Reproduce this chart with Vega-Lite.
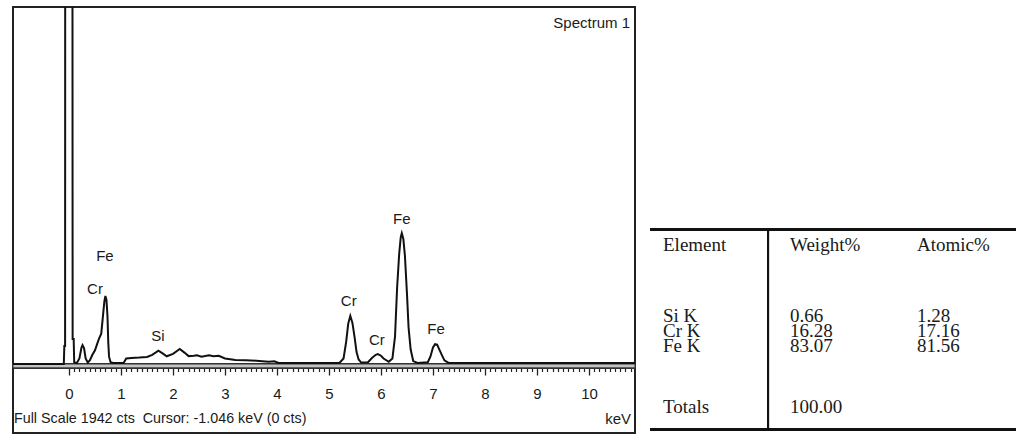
{
  "$schema": "https://vega.github.io/schema/vega-lite/v6.json",
  "background": "white",
  "padding": {"left": 11, "top": 6, "right": 0, "bottom": 2},
  "spacing": 11,
  "config": {
    "view": {"stroke": null},
    "text": {"font": "Liberation Sans, Arial, sans-serif", "fontSize": 15, "color": "#1a1a1a"}
  },
  "datasets": {
    "spectrum": [
      {"keV": -1.077, "cts": 0}, {"keV": -0.5, "cts": 0}, {"keV": -0.1, "cts": 0},
      {"keV": -0.09, "cts": 98}, {"keV": -0.075, "cts": 98}, {"keV": -0.07, "cts": 6000},
      {"keV": 0.06, "cts": 6000}, {"keV": 0.07, "cts": 136}, {"keV": 0.09, "cts": 136},
      {"keV": 0.1, "cts": 10}, {"keV": 0.15, "cts": 5}, {"keV": 0.2, "cts": 30},
      {"keV": 0.24, "cts": 90}, {"keV": 0.26, "cts": 103}, {"keV": 0.29, "cts": 85},
      {"keV": 0.32, "cts": 30}, {"keV": 0.36, "cts": 8}, {"keV": 0.4, "cts": 20},
      {"keV": 0.45, "cts": 50}, {"keV": 0.5, "cts": 75}, {"keV": 0.54, "cts": 108},
      {"keV": 0.58, "cts": 140}, {"keV": 0.62, "cts": 165}, {"keV": 0.65, "cts": 252},
      {"keV": 0.68, "cts": 340}, {"keV": 0.7, "cts": 370}, {"keV": 0.72, "cts": 350},
      {"keV": 0.74, "cts": 260}, {"keV": 0.755, "cts": 120}, {"keV": 0.77, "cts": 40},
      {"keV": 0.8, "cts": 10}, {"keV": 0.85, "cts": 6}, {"keV": 1.05, "cts": 6},
      {"keV": 1.1, "cts": 30}, {"keV": 1.2, "cts": 33}, {"keV": 1.35, "cts": 35},
      {"keV": 1.5, "cts": 38}, {"keV": 1.6, "cts": 50}, {"keV": 1.72, "cts": 72},
      {"keV": 1.8, "cts": 58}, {"keV": 1.88, "cts": 42}, {"keV": 2.0, "cts": 55},
      {"keV": 2.13, "cts": 82}, {"keV": 2.22, "cts": 62}, {"keV": 2.3, "cts": 43},
      {"keV": 2.4, "cts": 45}, {"keV": 2.46, "cts": 48}, {"keV": 2.55, "cts": 40},
      {"keV": 2.69, "cts": 48}, {"keV": 2.78, "cts": 42}, {"keV": 2.88, "cts": 45},
      {"keV": 3.0, "cts": 30}, {"keV": 3.2, "cts": 22}, {"keV": 3.4, "cts": 20},
      {"keV": 3.6, "cts": 18}, {"keV": 3.84, "cts": 12}, {"keV": 3.95, "cts": 15},
      {"keV": 4.03, "cts": 6}, {"keV": 4.5, "cts": 5}, {"keV": 5.0, "cts": 5},
      {"keV": 5.2, "cts": 6}, {"keV": 5.28, "cts": 30}, {"keV": 5.33, "cts": 120},
      {"keV": 5.37, "cts": 220}, {"keV": 5.41, "cts": 262}, {"keV": 5.45, "cts": 225},
      {"keV": 5.49, "cts": 150}, {"keV": 5.53, "cts": 65}, {"keV": 5.57, "cts": 25},
      {"keV": 5.62, "cts": 8}, {"keV": 5.75, "cts": 10}, {"keV": 5.83, "cts": 34},
      {"keV": 5.9, "cts": 50}, {"keV": 5.94, "cts": 54}, {"keV": 6.0, "cts": 45},
      {"keV": 6.05, "cts": 30}, {"keV": 6.15, "cts": 12}, {"keV": 6.22, "cts": 30},
      {"keV": 6.27, "cts": 150}, {"keV": 6.31, "cts": 415}, {"keV": 6.35, "cts": 600},
      {"keV": 6.38, "cts": 690}, {"keV": 6.4, "cts": 712}, {"keV": 6.43, "cts": 680},
      {"keV": 6.46, "cts": 590}, {"keV": 6.5, "cts": 380}, {"keV": 6.53, "cts": 200},
      {"keV": 6.57, "cts": 80}, {"keV": 6.62, "cts": 16}, {"keV": 6.7, "cts": 6},
      {"keV": 6.9, "cts": 10}, {"keV": 6.95, "cts": 40}, {"keV": 7.0, "cts": 90},
      {"keV": 7.04, "cts": 108}, {"keV": 7.08, "cts": 105}, {"keV": 7.12, "cts": 80},
      {"keV": 7.16, "cts": 55}, {"keV": 7.22, "cts": 20}, {"keV": 7.3, "cts": 6},
      {"keV": 8.0, "cts": 5}, {"keV": 9.0, "cts": 5}, {"keV": 10.0, "cts": 5},
      {"keV": 10.885, "cts": 5}
    ],
    "peaks": [
      {"keV": 0.69, "cts": 587, "label": "Fe"},
      {"keV": 0.5, "cts": 408, "label": "Cr"},
      {"keV": 1.71, "cts": 152, "label": "Si"},
      {"keV": 5.38, "cts": 343, "label": "Cr"},
      {"keV": 5.92, "cts": 131, "label": "Cr"},
      {"keV": 6.4, "cts": 789, "label": "Fe"},
      {"keV": 7.06, "cts": 190, "label": "Fe"}
    ],
    "quant": [
      {"line": 0, "element": "Element", "weight": "Weight%", "atomic": "Atomic%"},
      {"line": 4.75, "element": "Si K", "weight": "0.66", "atomic": "1.28"},
      {"line": 5.75, "element": "Cr K", "weight": "16.28", "atomic": "17.16"},
      {"line": 6.75, "element": "Fe K", "weight": "83.07", "atomic": "81.56"},
      {"line": 10.8, "element": "Totals", "weight": "100.00", "atomic": ""}
    ]
  },
  "hconcat": [
    {
      "width": 622,
      "height": 426,
      "view": {"stroke": "#222222", "strokeWidth": 2},
      "data": {"name": "spectrum"},
      "resolve": {"axis": {"x": "independent"}},
      "layer": [
        {
          "mark": {"type": "rect", "fill": "#c4c4c4", "stroke": "#333333", "strokeWidth": 1},
          "encoding": {
            "x": {
              "datum": -1.077,
              "type": "quantitative",
              "scale": {"domain": [-1.077, 10.885], "nice": false, "zero": false},
              "axis": null
            },
            "x2": {"datum": 10.885},
            "y": {
              "datum": 0,
              "type": "quantitative",
              "scale": {"domain": [-375.3, 1942], "nice": false, "zero": false},
              "axis": null
            },
            "y2": {"datum": -21}
          }
        },
        {
          "mark": {"type": "line", "color": "#111111", "strokeWidth": 2, "clip": true},
          "encoding": {
            "x": {
              "field": "keV",
              "type": "quantitative",
              "axis": {
                "orient": "bottom",
                "values": [0, 1, 2, 3, 4, 5, 6, 7, 8, 9, 10],
                "format": "d",
                "offset": -65,
                "domain": false,
                "grid": false,
                "title": null,
                "tickColor": "#222222",
                "tickWidth": 1.3,
                "tickSize": 7,
                "labelFont": "Liberation Sans, Arial, sans-serif",
                "labelFontSize": 15,
                "labelColor": "#1a1a1a",
                "labelPadding": 11,
                "labelOverlap": false,
                "labelFlush": false,
                "labelBound": false
              }
            },
            "y": {"field": "cts", "type": "quantitative", "axis": null}
          }
        },
        {
          "data": {"name": "peaks"},
          "mark": {"type": "text", "align": "center", "baseline": "middle"},
          "encoding": {
            "x": {
              "field": "keV",
              "type": "quantitative",
              "axis": {
                "orient": "top",
                "values": [0.1, 0.2, 0.3, 0.4, 0.5, 0.6, 0.7, 0.8, 0.9, 1.1, 1.2, 1.3, 1.4, 1.5, 1.6, 1.7, 1.8, 1.9, 2.1, 2.2, 2.3, 2.4, 2.5, 2.6, 2.7, 2.8, 2.9, 3.1, 3.2, 3.3, 3.4, 3.5, 3.6, 3.7, 3.8, 3.9, 4.1, 4.2, 4.3, 4.4, 4.5, 4.6, 4.7, 4.8, 4.9, 5.1, 5.2, 5.3, 5.4, 5.5, 5.6, 5.7, 5.8, 5.9, 6.1, 6.2, 6.3, 6.4, 6.5, 6.6, 6.7, 6.8, 6.9, 7.1, 7.2, 7.3, 7.4, 7.5, 7.6, 7.7, 7.8, 7.9, 8.1, 8.2, 8.3, 8.4, 8.5, 8.6, 8.7, 8.8, 8.9, 9.1, 9.2, 9.3, 9.4, 9.5, 9.6, 9.7, 9.8, 9.9, 10.1, 10.2, 10.3, 10.4, 10.5, 10.6, 10.7, 10.8],
                "offset": -364.5,
                "domain": false,
                "grid": false,
                "labels": false,
                "title": null,
                "tickColor": "#222222",
                "tickWidth": 1.2,
                "tickSize": 3.5
              }
            },
            "y": {"field": "cts", "type": "quantitative", "axis": null},
            "text": {"field": "label"}
          }
        },
        {
          "data": {"values": [{"note": "Spectrum 1"}]},
          "mark": {"type": "text", "align": "right", "baseline": "middle"},
          "encoding": {
            "x": {"datum": 10.79, "type": "quantitative", "axis": null},
            "y": {"datum": 1855, "type": "quantitative", "axis": null},
            "text": {"field": "note"}
          }
        },
        {
          "data": {"values": [{"note": "Full Scale 1942 cts\u00a0\u00a0Cursor: -1.046 keV (0 cts)"}]},
          "mark": {"type": "text", "align": "left", "baseline": "middle", "fontSize": 14.3},
          "encoding": {
            "x": {"datum": -1.058, "type": "quantitative", "axis": null},
            "y": {"datum": -299, "type": "quantitative", "axis": null},
            "text": {"field": "note"}
          }
        },
        {
          "data": {"values": [{"note": "keV"}]},
          "mark": {"type": "text", "align": "right", "baseline": "middle"},
          "encoding": {
            "x": {"datum": 10.81, "type": "quantitative", "axis": null},
            "y": {"datum": -299, "type": "quantitative", "axis": null},
            "text": {"field": "note"}
          }
        }
      ]
    },
    {
      "width": 366,
      "height": 426,
      "data": {"name": "quant"},
      "layer": [
        {
          "mark": {"type": "rule", "color": "#111111", "strokeWidth": 3},
          "encoding": {
            "x": {"datum": -0.1024, "type": "quantitative", "scale": {"domain": [-0.1024, 2.7795], "nice": false, "zero": false}, "axis": null},
            "x2": {"datum": 2.7795},
            "y": {"datum": -1.033, "type": "quantitative", "scale": {"domain": [-15.867, 12.533], "nice": false, "zero": false, "reverse": true}, "axis": null}
          }
        },
        {
          "mark": {"type": "rule", "color": "#111111", "strokeWidth": 3},
          "encoding": {
            "x": {"datum": -0.1024, "type": "quantitative"},
            "x2": {"datum": 2.7795},
            "y": {"datum": 12.3, "type": "quantitative"}
          }
        },
        {
          "mark": {"type": "rule", "color": "#111111", "strokeWidth": 2},
          "encoding": {
            "x": {"datum": 0.827, "type": "quantitative"},
            "y": {"datum": -1.033, "type": "quantitative"},
            "y2": {"datum": 12.3}
          }
        },
        {
          "mark": {"type": "text", "align": "left", "baseline": "middle", "font": "Liberation Serif, Times New Roman, serif", "fontSize": 19},
          "encoding": {
            "x": {"datum": 0, "type": "quantitative"},
            "y": {"field": "line", "type": "quantitative"},
            "text": {"field": "element"}
          }
        },
        {
          "mark": {"type": "text", "align": "left", "baseline": "middle", "font": "Liberation Serif, Times New Roman, serif", "fontSize": 19},
          "encoding": {
            "x": {"datum": 1, "type": "quantitative"},
            "y": {"field": "line", "type": "quantitative"},
            "text": {"field": "weight"}
          }
        },
        {
          "mark": {"type": "text", "align": "left", "baseline": "middle", "font": "Liberation Serif, Times New Roman, serif", "fontSize": 19},
          "encoding": {
            "x": {"datum": 2, "type": "quantitative"},
            "y": {"field": "line", "type": "quantitative"},
            "text": {"field": "atomic"}
          }
        }
      ]
    }
  ]
}
